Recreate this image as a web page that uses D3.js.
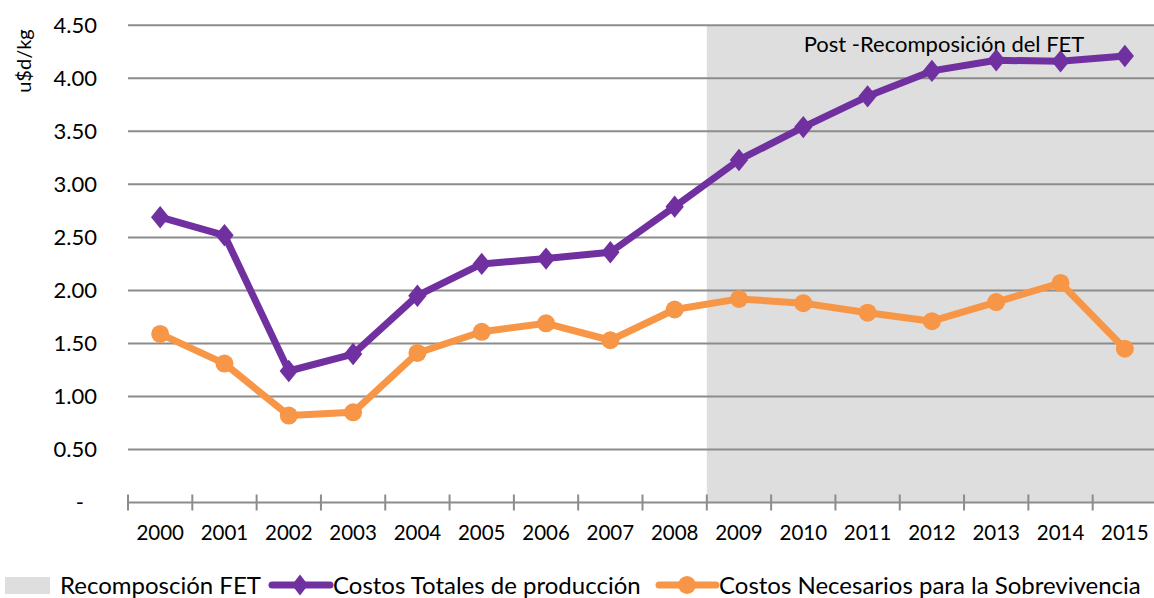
<!DOCTYPE html>
<html>
<head>
<meta charset="utf-8">
<script src="https://cdn.jsdelivr.net/npm/d3@7"></script>
<style>
  body { margin: 0; background: #fff; }
  svg { display: block; font-family: Lato, "Open Sans", sans-serif; }
</style>
</head>
<body>
<svg id="chart" width="1154" height="598"></svg>
<script>
// ── data ──
const years = ['2000','2001','2002','2003','2004','2005','2006','2007',
               '2008','2009','2010','2011','2012','2013','2014','2015'];
const costosTotales = [2.69, 2.52, 1.24, 1.40, 1.95, 2.25, 2.30, 2.36,
                       2.79, 3.23, 3.54, 3.83, 4.07, 4.17, 4.16, 4.21];
const costosNecesarios = [1.59, 1.31, 0.82, 0.85, 1.41, 1.61, 1.69, 1.53,
                          1.82, 1.92, 1.88, 1.79, 1.71, 1.89, 2.07, 1.45];
const yTicks = [0, 0.5, 1, 1.5, 2, 2.5, 3, 3.5, 4, 4.5];
const shadeFrom = '2009';   // Post-Recomposición del FET

const PURPLE = '#7030a0', ORANGE = '#f79646', SHADE = '#dedede', GRID = '#8c8c8c';

const svg = d3.select('#chart');
const x = d3.scaleBand().domain(years).range([128, 1157]);
const y = d3.scaleLinear().domain([0, 4.5]).range([502.5, 25.3]);

// shaded region
svg.append('rect')
  .attr('x', x(shadeFrom)).attr('y', y(4.5))
  .attr('width', x.range()[1] - x(shadeFrom)).attr('height', y(0) - y(4.5))
  .attr('fill', SHADE);

// gridlines
svg.append('g').selectAll('line').data(yTicks.filter(d => d > 0)).enter().append('line')
  .attr('x1', 128).attr('x2', 1157)
  .attr('y1', d => y(d)).attr('y2', d => y(d))
  .attr('stroke', GRID).attr('stroke-width', 2);

// y labels
svg.append('g').selectAll('text').data(yTicks).enter().append('text')
  .attr('x', d => d === 0 ? 84 : 97).attr('y', d => y(d)).attr('dy', '0.36em')
  .attr('text-anchor', 'end').attr('font-size', 22).attr('fill', '#000')
  .text(d => d === 0 ? '-' : d.toFixed(2));

// x axis
const xAxis = svg.append('g');
xAxis.append('line').attr('x1', 128).attr('x2', 1157).attr('y1', y(0)).attr('y2', y(0))
  .attr('stroke', GRID).attr('stroke-width', 2);
xAxis.selectAll('.tk').data(years).enter().append('line')
  .attr('x1', d => x(d)).attr('x2', d => x(d))
  .attr('y1', y(0) - 8).attr('y2', y(0) + 8)
  .attr('stroke', GRID).attr('stroke-width', 2);
xAxis.selectAll('.lb').data(years).enter().append('text')
  .attr('x', d => x(d) + x.bandwidth() / 2).attr('y', 540)
  .attr('text-anchor', 'middle').attr('font-size', 20.5).attr('fill', '#000')
  .text(d => d);

// y title
svg.append('text').attr('transform', 'translate(31,61) rotate(-90)')
  .attr('text-anchor', 'middle').attr('font-size', 20).text('u$d/kg');

// annotation
svg.append('text').attr('x', 944).attr('y', 52).attr('text-anchor', 'middle')
  .attr('font-size', 22).text('Post -Recomposición del FET');

// series
const cx = (d, i) => x(years[i]) + x.bandwidth() / 2;
const line = d3.line().x(cx).y(d => y(d));
const diamond = d3.symbol().type(d3.symbolDiamond).size(160);

svg.append('path').datum(costosTotales).attr('d', line)
  .attr('fill', 'none').attr('stroke', PURPLE).attr('stroke-width', 7).attr('stroke-linejoin', 'round');
svg.append('g').selectAll('path').data(costosTotales).enter().append('path')
  .attr('d', diamond)
  .attr('transform', (d, i) => `translate(${cx(d, i)},${y(d)}) scale(1.35,0.95)`)
  .attr('fill', PURPLE);

svg.append('path').datum(costosNecesarios).attr('d', line)
  .attr('fill', 'none').attr('stroke', ORANGE).attr('stroke-width', 7).attr('stroke-linejoin', 'round');
svg.append('g').selectAll('circle').data(costosNecesarios).enter().append('circle')
  .attr('cx', cx).attr('cy', d => y(d)).attr('r', 9)
  .attr('fill', ORANGE);

// legend
const lg = svg.append('g').attr('font-size', 24);
const ly = 585;
lg.append('rect').attr('x', 5).attr('y', ly - 8).attr('width', 45).attr('height', 17).attr('fill', SHADE);
lg.append('text').attr('x', 60).attr('y', ly).attr('dy', '0.36em').text('Recomposción FET');

lg.append('line').attr('x1', 272).attr('x2', 330).attr('y1', ly).attr('y2', ly)
  .attr('stroke', PURPLE).attr('stroke-width', 7).attr('stroke-linecap', 'round');
lg.append('path').attr('d', diamond).attr('transform', `translate(300,${ly}) scale(1.2,0.9)`).attr('fill', PURPLE);
lg.append('text').attr('x', 333).attr('y', ly).attr('dy', '0.36em').text('Costos Totales de producción');

lg.append('line').attr('x1', 659).attr('x2', 716).attr('y1', ly).attr('y2', ly)
  .attr('stroke', ORANGE).attr('stroke-width', 7).attr('stroke-linecap', 'round');
lg.append('circle').attr('cx', 687).attr('cy', ly).attr('r', 9).attr('fill', ORANGE);
lg.append('text').attr('x', 719).attr('y', ly).attr('dy', '0.36em').text('Costos Necesarios para la Sobrevivencia');
</script>
</body>
</html>
